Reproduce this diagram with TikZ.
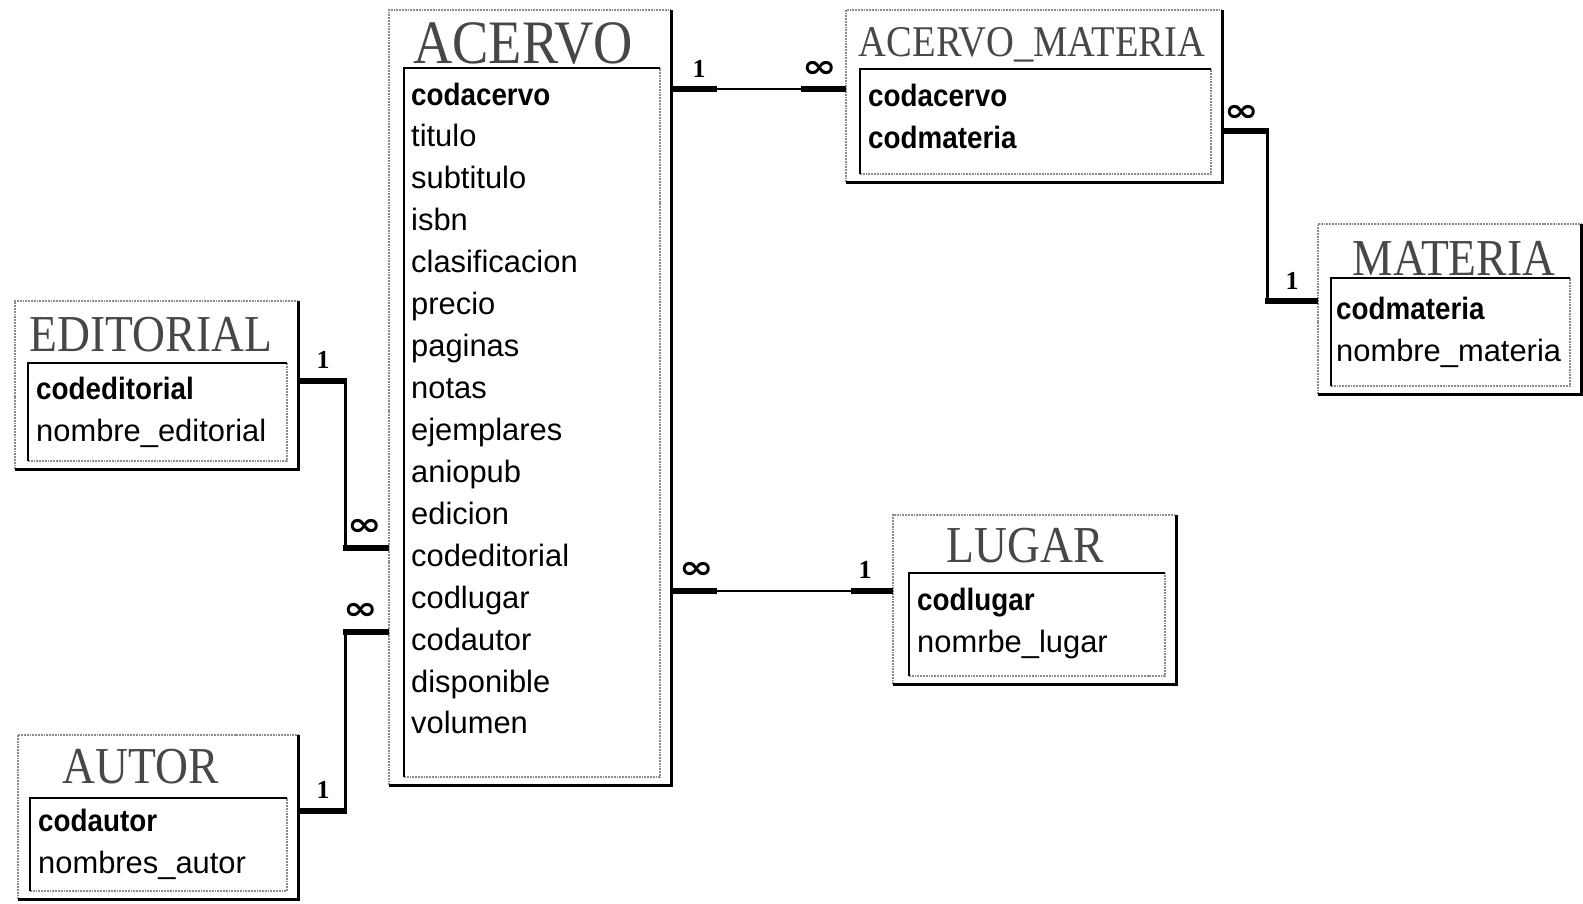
\documentclass[tikz,border=0pt]{standalone}
\usepackage{fontspec}
\setmainfont{Liberation Sans}
\newfontfamily\titlefont[FakeStretch=0.88]{Liberation Serif}
\newfontfamily\boldfield[FakeStretch=0.9]{Liberation Sans Bold}
\newfontfamily\cardfont{Liberation Serif Bold}
\newfontfamily\symfont[FakeStretch=1.3]{DejaVu Sans Bold}
\usetikzlibrary{fit}
\tikzset{
  x=1bp, y=-1bp,
  lightedge/.style={draw=black!45, line width=1.8bp, densely dotted},
  darkedge/.style={draw=black, line width=3bp},
  insetedge/.style={draw=black, line width=2.4bp},
  ttl/.style={text=black!72, anchor=base, inner sep=0pt},
  fld/.style={font=\fontsize{31}{36}\selectfont, anchor=base west, inner sep=0pt},
  keyfld/.style={font=\boldfield\fontsize{31}{36}\selectfont, anchor=base west, inner sep=0pt},
  rel/.style={draw=black, line width=1.5bp},
  relend/.style={draw=black, line width=6bp},
  relv/.style={draw=black, line width=3bp},
  one/.style={font=\cardfont\fontsize{26}{26}\selectfont, inner sep=0pt},
  many/.style={font=\symfont\fontsize{32}{32}\selectfont, inner sep=0pt},
}
% name, L, T, R, B, inner top, inner left
\newcommand\ertbl[7]{%
  \path (#2,#3) coordinate (#1nw) (#4,#5) coordinate (#1se);
  \node[fit=(#1nw)(#1se), inner sep=0pt] (#1) {};
  \draw[lightedge] (#1.south west) -- (#1.north west) -- (#1.north east);
  \draw[darkedge] (#1.north east) -- (#1.south east) -- (#1.south west);
  \draw[lightedge] (#7,#5-8) -- (#4-11,#5-8) -- (#4-11,#6);
  \draw[insetedge] (#4-11,#6) -- (#7,#6) -- (#7,#5-8);
}
\begin{document}
\begin{tikzpicture}
\fill[white] (0,0) rectangle (1583,903);
\useasboundingbox (0,0) rectangle (1583,903);

% ---------- tables ----------
\ertbl{acervo}{389}{10}{671}{785}{68}{404}
\ertbl{acmat}{846}{10}{1222}{182}{69}{860}
\ertbl{materia}{1318}{224}{1581}{394}{278}{1331}
\ertbl{editorial}{15}{301}{298}{469}{363}{28}
\ertbl{autor}{18}{735}{298}{899}{798}{30}
\ertbl{lugar}{893}{515}{1176}{684}{573}{909}

% ---------- titles ----------
\node[ttl, font=\titlefont\fontsize{62}{62}\selectfont] (tacervo) at (523,63) {ACERVO};
\node[ttl, font=\titlefont\fontsize{44}{44}\selectfont] (tacmat) at (1032,56) {ACERVO\_MATERIA};
\node[ttl, font=\titlefont\fontsize{52}{52}\selectfont] (tmateria) at (1454,275) {MATERIA};
\node[ttl, font=\titlefont\fontsize{52}{52}\selectfont] (teditorial) at (151,351) {EDITORIAL};
\node[ttl, font=\titlefont\fontsize{52}{52}\selectfont] (tautor) at (141,783) {AUTOR};
\node[ttl, font=\titlefont\fontsize{52}{52}\selectfont] (tlugar) at (1025,562) {LUGAR};

% ---------- fields ----------
\node[keyfld] (ac0) at (411,105) {codacervo};
\foreach \t [count=\i] in {titulo,subtitulo,isbn,clasificacion,precio,paginas,notas,ejemplares,aniopub,edicion,codeditorial,codlugar,codautor,disponible,volumen}
  \node[fld] (ac\i) at (411,{105+\i*41.93}) {\t};

\node[keyfld] (am1) at (868,106) {codacervo};
\node[keyfld] (am2) at (868,148) {codmateria};

\node[keyfld] (ma1) at (1336,319) {codmateria};
\node[fld] (ma2) at (1336,361) {nombre\_materia};

\node[keyfld] (ed1) at (36,399) {codeditorial};
\node[fld] (ed2) at (36,441) {nombre\_editorial};

\node[keyfld] (au1) at (38,831) {codautor};
\node[fld] (au2) at (38,873) {nombres\_autor};

\node[keyfld] (lu1) at (917,610) {codlugar};
\node[fld] (lu2) at (917,652) {nomrbe\_lugar};

% ---------- relationships ----------
% ACERVO - ACERVO_MATERIA
\draw[rel] (acervo.east |- 0,89) -- (acmat.west |- 0,89);
\draw[relend] (acervo.east |- 0,89) -- ++(46,0);
\draw[relend] (acmat.west |- 0,89) -- ++(-45,0);
\node[one] (r1a) at (699,69) {1};
\node[many] (r1b) at (820,69) {∞};

% ACERVO_MATERIA - MATERIA
\draw[relv] (acmat.east |- 0,131) -| (1267,301) -- (materia.west |- 0,301);
\draw[relend] (acmat.east |- 0,131) -- ++(46.5,0);
\draw[relend] (materia.west |- 0,301) -- ++(-52.5,0);
\node[many] (r2a) at (1242,113) {∞};
\node[one] (r2b) at (1292,281) {1};

% EDITORIAL - ACERVO
\draw[relv] (editorial.east |- 0,381) -| (345,548) -- (acervo.west |- 0,548);
\draw[relend] (editorial.east |- 0,381) -- ++(48.5,0);
\draw[relend] (acervo.west |- 0,548) -- ++(-45.5,0);
\node[one] (r3a) at (323,360) {1};
\node[many] (r3b) at (365,527) {∞};

% AUTOR - ACERVO
\draw[relv] (autor.east |- 0,811) -| (345,632) -- (acervo.west |- 0,632);
\draw[relend] (autor.east |- 0,811) -- ++(48.5,0);
\draw[relend] (acervo.west |- 0,632) -- ++(-45.5,0);
\node[one] (r4a) at (323,790) {1};
\node[many] (r4b) at (361,611) {∞};

% ACERVO - LUGAR
\draw[rel] (acervo.east |- 0,591) -- (lugar.west |- 0,591);
\draw[relend] (acervo.east |- 0,591) -- ++(46,0);
\draw[relend] (lugar.west |- 0,591) -- ++(-42,0);
\node[many] (r5a) at (697,570) {∞};
\node[one] (r5b) at (865,570) {1};
\end{tikzpicture}
\end{document}
